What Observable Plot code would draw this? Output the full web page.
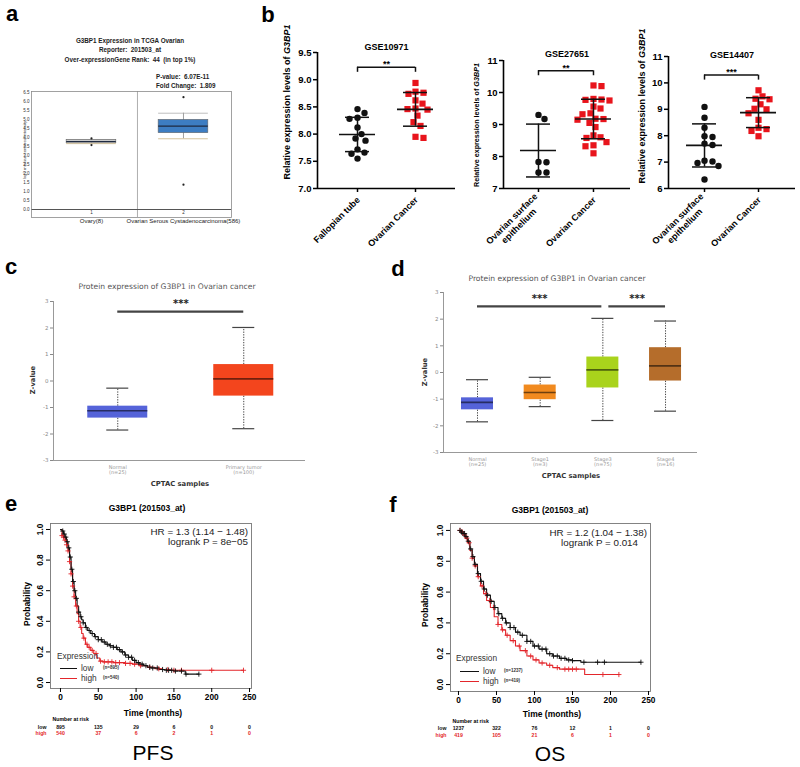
<!DOCTYPE html>
<html><head><meta charset="utf-8">
<script src="https://cdn.jsdelivr.net/npm/d3@7"></script>
<script src="https://cdn.jsdelivr.net/npm/@observablehq/plot@0.6"></script>
<style>
body{margin:0;background:#fff;}
#root{position:relative;width:800px;height:767px;overflow:hidden;background:#fff;font-family:"Liberation Sans",Arial,Helvetica,sans-serif;}
#root svg{position:absolute;overflow:visible;max-width:none;}
.t{position:absolute;white-space:nowrap;line-height:1;}
</style></head><body><div id="root"></div>
<script>
// ================= DATA =================
// (a) Oncomine TCGA Ovarian box plot
const aLabels = ["Ovary(8)", "Ovarian Serous Cystadenocarcinoma(586)"];
const aTickLabels = ["1", "2"];
const aMin = [3.66, 3.93];
const aQ1 = [3.68, 4.24];
const aMed = [3.78, 4.63];
const aQ3 = [3.87, 4.98];
const aMax = [3.89, 5.35];
const aOutGroup = [1, 1, 2, 2];
const aOutValue = [3.95, 3.58, 6.24, 1.38];
const aYTicks = [0, 0.5, 1, 1.5, 2, 2.5, 3, 3.5, 4, 4.5, 5, 5.5, 6, 6.5];

// (b) GEO scatter plots
const b1Cats = ["Fallopian tube", "Ovarian Cancer"];
const b1Normal = [8.46, 8.39, 8.30, 8.28, 8.12, 8.00, 7.92, 7.88, 7.72, 7.66, 7.64, 7.55];
const b1Cancer = [8.94, 8.78, 8.76, 8.74, 8.62, 8.56, 8.47, 8.46, 8.45, 8.34, 8.22, 8.15, 7.95, 7.93];
const b1Ticks = [7.0, 7.5, 8.0, 8.5, 9.0, 9.5];
const b2Cats = ["Ovarian surface\nepithelium", "Ovarian Cancer"];
const b2Normal = [9.30, 9.17, 7.83, 7.82, 7.50, 7.50];
const b2Cancer = [10.22, 10.20, 9.80, 9.78, 9.77, 9.75, 9.56, 9.50, 9.35, 9.32, 9.18, 9.17, 9.15, 9.05, 8.92, 8.66, 8.60, 8.58, 8.45, 8.35, 8.32, 8.10];
const b2Ticks = [7, 8, 9, 10, 11];
const b3Cats = ["Ovarian surface\nepithelium", "Ovarian Cancer"];
const b3Normal = [9.09, 8.68, 8.30, 7.95, 7.98, 7.70, 7.65, 7.05, 6.97, 7.02, 6.85, 6.34];
const b3Cancer = [9.72, 9.49, 9.40, 9.38, 9.19, 9.02, 9.00, 8.85, 8.60, 8.30, 8.25, 8.18, 7.98];
const b3Ticks = [6, 7, 8, 9, 10, 11];
const bTitles = ["GSE10971", "GSE27651", "GSE14407"];
const bStars = ["**", "**", "***"];

// (c) UALCAN normal vs tumor
const cLabels = ["Normal", "Primary tumor"];
const cN = [25, 100];
const cMin = [-1.85, -1.80];
const cQ1 = [-1.40, -0.57];
const cMed = [-1.12, 0.08];
const cQ3 = [-0.95, 0.62];
const cMax = [-0.27, 2.02];
const cSigPairs = [[1, 2]];
const cSigLevel = 2.62;

// (d) UALCAN by stage
const dLabels = ["Normal", "Stage1", "Stage3", "Stage4"];
const dN = [25, 3, 75, 16];
const dMin = [-1.85, -1.28, -1.80, -1.45];
const dQ1 = [-1.40, -1.02, -0.58, -0.32];
const dMed = [-1.12, -0.75, 0.10, 0.25];
const dQ3 = [-0.95, -0.47, 0.58, 0.93];
const dMax = [-0.27, -0.18, 2.03, 1.93];
const dSigPairs = [[1, 3], [3, 4]];
const dSigLevel = 2.48;
const zTicks = [-3, -2, -1, 0, 1, 2, 3];

// (e) PFS Kaplan-Meier
const pfsLowT = [0,2,4,6,8,10,12,14,16,18,20,22,24,26,28,30,33,36,40,45,50,55,60,65,70,75,80,85,90,95,100,105,110,115,120,130,140,150,165,183];
const pfsLowP = [1.0,0.99,0.97,0.95,0.92,0.88,0.82,0.74,0.66,0.60,0.55,0.50,0.46,0.43,0.41,0.39,0.36,0.34,0.32,0.30,0.28,0.265,0.25,0.24,0.23,0.215,0.20,0.18,0.165,0.145,0.13,0.12,0.11,0.10,0.095,0.085,0.08,0.075,0.055,0.055];
const pfsHighT = [0,2,4,6,8,10,12,14,16,18,20,22,24,26,28,30,33,36,40,44,48,52,56,70,85,95,105,115,125,135,145,242];
const pfsHighP = [1.0,0.96,0.95,0.93,0.90,0.86,0.79,0.71,0.63,0.56,0.50,0.45,0.40,0.36,0.32,0.29,0.25,0.23,0.21,0.19,0.16,0.14,0.135,0.13,0.125,0.12,0.11,0.10,0.09,0.085,0.08,0.08];
const pfsLowCens = [3,5,7,9,11,13,15,17,19,21,24,27,30,34,38,42,46,50,54,58,62,66,70,74,78,82,86,90,94,98,103,108,113,118,122,128,135,140,143,147,152,160,166,183];
const pfsHighCens = [2,4,6,8,10,12,14,16,18,21,24,27,31,35,38,42,47,53,58,63,68,73,78,86,92,98,106,118,130,142,150,160,200,242];
const pfsRiskLow = [895, 135, 29, 6, 0, 0];
const pfsRiskHigh = [540, 37, 6, 2, 1, 0];

// (f) OS Kaplan-Meier
const osLowT = [0,3,6,9,12,15,18,21,25,29,33,37,42,47,52,57,62,68,75,81,90,98,106,116,124,133,142,150,161,240];
const osLowP = [1.0,0.99,0.98,0.96,0.93,0.88,0.83,0.78,0.72,0.67,0.62,0.58,0.54,0.50,0.46,0.43,0.40,0.37,0.34,0.32,0.28,0.25,0.23,0.20,0.185,0.17,0.16,0.155,0.145,0.145];
const osHighT = [0,3,6,9,12,15,18,21,25,29,33,37,42,47,52,57,62,68,75,81,90,98,106,116,124,133,150,166,211];
const osHighP = [1.0,0.99,0.97,0.95,0.92,0.87,0.82,0.77,0.70,0.64,0.59,0.545,0.50,0.44,0.39,0.355,0.32,0.285,0.25,0.22,0.185,0.16,0.14,0.125,0.11,0.10,0.10,0.065,0.065];
const osLowCens = [2,4,6,8,10,13,16,19,22,26,30,34,38,43,48,53,58,63,68,73,78,84,90,95,100,105,110,115,120,125,130,135,140,145,150,165,183,192,240];
const osHighCens = [2,5,8,11,14,18,22,26,31,36,41,46,52,58,64,72,80,88,95,102,110,120,130,140,145,150,155,190,211];
const osRiskLow = [1237, 322, 76, 12, 1, 0];
const osRiskHigh = [419, 105, 21, 6, 1, 0];
const kmXTicks = [0, 50, 100, 150, 200, 250];
const kmYTicks = [0, 0.2, 0.4, 0.6, 0.8, 1.0];

// ================= HELPERS =================
const root = document.getElementById("root");
const FONT = '"Liberation Sans", Arial, Helvetica, sans-serif';
const UFONT = '"DejaVu Sans", Verdana, sans-serif';
const RED = "#e8141c";
const KRED = "#e3262b";

function T(html, x, y, o = {}) {
  const el = document.createElement("div");
  el.className = "t";
  el.innerHTML = html;
  el.style.left = x + "px";
  el.style.top = y + "px";
  const a = o.anchor || "middle";
  const tx = a === "start" ? "0" : a === "end" ? "-100%" : "-50%";
  if (o.origin) el.style.transformOrigin = o.origin;
  if (o.align) el.style.textAlign = o.align;
  if (o.lh) el.style.lineHeight = o.lh;
  el.style.transform = `translate(${tx},-50%)` + (o.rotate ? ` rotate(${o.rotate}deg)` : "");
  el.style.fontSize = (o.size || 10) + "px";
  el.style.fontWeight = o.bold ? "bold" : "normal";
  el.style.color = o.color || "#000";
  el.style.fontFamily = o.font || FONT;
  root.appendChild(el);
}
function L(x1, x2, y, color) {
  const el = document.createElement("div");
  el.style.cssText = `position:absolute;left:${x1}px;top:${y}px;width:${x2 - x1}px;height:0;border-top:1px solid ${color};`;
  root.appendChild(el);
}
function P(svg, left, top) {
  svg.style.left = left + "px";
  svg.style.top = top + "px";
  root.appendChild(svg);
}
function baseStyle(font, size, extra = {}) {
  return Object.assign({fontFamily: font, fontSize: size + "px", background: "transparent", overflow: "visible", color: "#000"}, extra);
}

// ================= PANEL A =================
const aBoxes = aLabels.map((l, i) => ({x: i + 1, min: aMin[i], q1: aQ1[i], med: aMed[i], q3: aQ3[i], max: aMax[i]}));
const aFill = ["#c8c8c8", "#3d7dc2"];
const aOut = aOutValue.map((v, i) => ({x: aOutGroup[i], v}));
const aw = 0.27;
P(Plot.plot({
  width: 240, height: 230, marginLeft: 31, marginRight: 9, marginTop: 91, marginBottom: 13,
  x: {domain: [0.348, 2.522], axis: null},
  y: {domain: [-0.444, 6.556]},
  style: baseStyle(FONT, 4.5, {color: "#333"}),
  marks: [
    Plot.axisY({ticks: aYTicks, tickFormat: d3.format(".1f"), tickSize: 0, tickPadding: 2, label: null}),
    Plot.ruleX([1.5], {stroke: "#9a9a9a", strokeWidth: 0.8}),
    Plot.ruleY([0], {stroke: "#555", strokeWidth: 1}),
    Plot.ruleX(aBoxes, {x: "x", y1: "min", y2: "max", stroke: "#777", strokeWidth: 0.7}),
    Plot.ruleY(aBoxes, {y: "max", x1: d => d.x - aw, x2: d => d.x + aw, stroke: "#a0a0a0", strokeWidth: 0.7}),
    Plot.ruleY(aBoxes, {y: "min", x1: d => d.x - aw, x2: d => d.x + aw, stroke: "#c0a870", strokeWidth: 0.7}),
    Plot.rect(aBoxes, {x1: d => d.x - aw, x2: d => d.x + aw, y1: "q1", y2: "q3", fill: (d, i) => aFill[i], stroke: "#666", strokeWidth: 0.6}),
    Plot.ruleY(aBoxes, {y: "med", x1: d => d.x - aw, x2: d => d.x + aw, stroke: "#1e2a40", strokeWidth: 1.1}),
    Plot.dot(aOut, {x: "x", y: "v", r: 1.1, fill: "#222"}),
    Plot.text(aTickLabels, {x: (d, i) => i + 1, frameAnchor: "bottom", dy: -4}),
    Plot.text(aLabels, {x: (d, i) => i + 1, frameAnchor: "bottom", dy: 5, fontSize: 6, fill: "#222"}),
    Plot.frame({stroke: "#8a8a8a", strokeWidth: 0.8})
  ]
}), 0, 0);
T("a", 12, 14, {size: 22, bold: true});
T("G3BP1 Expression in TCGA Ovarian", 130, 41, {size: 6.3, bold: true, color: "#222"});
T("Reporter:&nbsp; 201503_at", 130, 50, {size: 6.3, bold: true, color: "#222"});
T("Over-expressionGene Rank:&nbsp; 44&nbsp; (in top 1%)", 130, 60, {size: 6.3, bold: true, color: "#222"});
T("P-value:&nbsp; 6.07E-11", 156, 77, {size: 6.3, bold: true, anchor: "start", color: "#222"});
T("Fold Change:&nbsp; 1.809", 156, 86, {size: 6.3, bold: true, anchor: "start", color: "#222"});
T("log2 median-centered intensity", 25, 150, {size: 4.3, rotate: -90, color: "#444"});

// ================= PANEL B =================
function swarm(values, pxY, pxX, d) {
  const idx = d3.range(values.length).sort((a, b) => values[b] - values[a]);
  const placed = [], out = new Array(values.length);
  for (const i of idx) {
    const y = values[i] * pxY;
    for (let k = 0; k < 400; k++) {
      const dx = (k % 2 ? 1 : -1) * Math.ceil(k / 2);
      if (placed.every(p => Math.hypot(p[0] - dx, p[1] - y) >= d)) {
        placed.push([dx, y]); out[i] = dx / pxX; break;
      }
    }
  }
  return out;
}
function scatterPanel(o) {
  const fw = o.W - o.mL - o.mR, fh = o.H - o.mT - o.mB;
  const pxX = fw / (o.xDom[1] - o.xDom[0]), pxY = fh / (o.yDom[1] - o.yDom[0]);
  const groups = [o.normal, o.cancer];
  const pts = groups.map((vals, g) => {
    const off = swarm(vals, pxY, pxX, 7.2);
    return vals.map((v, i) => ({x: g + 1 + off[i], v}));
  });
  const stats = groups.map((vals, g) => ({x: g + 1, m: d3.mean(vals), s: d3.deviation(vals)}));
  const yb = d3.max(groups.flat()) + 0.115 * (o.yDom[1] - o.yDom[0]);
  const mh = 18 / pxX, ch = 12 / pxX, bt = 5 / pxY, tk = 4 / pxY;
  const y0 = () => o.yDom[0];
  // rotated category labels, anchored under each category tick
  o.cats.forEach((c, i) => {
    const px = o.left + o.mL + (i + 1 - o.xDom[0]) * pxX + 2;
    const py = o.H - o.mB + 11;
    T(c.replace("\n", "<br>"), px, py, {size: 9, bold: true, anchor: "end", rotate: -45, origin: "100% 50%", align: "center", lh: "1.1"});
  });
  return Plot.plot({
    width: o.W, height: o.H, marginLeft: o.mL, marginRight: o.mR, marginTop: o.mT, marginBottom: o.mB,
    x: {domain: o.xDom, axis: null}, y: {domain: o.yDom},
    style: baseStyle(FONT, 9.5, {fontWeight: "bold"}),
    marks: [
      Plot.axisY({ticks: o.yTicks, tickFormat: o.yFmt, tickSize: 4, tickPadding: 2, strokeWidth: 1.5, label: null}),
      Plot.ruleX([1, 2], {x: d => d, y1: y0, y2: () => o.yDom[0] - tk, stroke: "#000", strokeWidth: 1.5}),
      Plot.ruleX([o.xDom[0]], {stroke: "#000", strokeWidth: 1.6}),
      Plot.ruleY([o.yDom[0]], {stroke: "#000", strokeWidth: 1.6}),
      Plot.dot(pts[0], {x: "x", y: "v", r: 3.2, fill: "#111"}),
      Plot.dot(pts[1], {x: "x", y: "v", r: 3.5, symbol: "square", fill: RED}),
      Plot.ruleX(stats, {x: "x", y1: d => d.m - d.s, y2: d => d.m + d.s, stroke: "#111", strokeWidth: 1.5}),
      Plot.ruleY(stats, {y: "m", x1: d => d.x - mh, x2: d => d.x + mh, stroke: "#111", strokeWidth: 1.6}),
      Plot.ruleY(stats, {y: d => d.m + d.s, x1: d => d.x - ch, x2: d => d.x + ch, stroke: "#111", strokeWidth: 1.5}),
      Plot.ruleY(stats, {y: d => d.m - d.s, x1: d => d.x - ch, x2: d => d.x + ch, stroke: "#111", strokeWidth: 1.5}),
      Plot.ruleY([yb], {x1: () => 1, x2: () => 2, stroke: "#111", strokeWidth: 1.5}),
      Plot.ruleX([1, 2], {x: d => d, y1: () => yb, y2: () => yb - bt, stroke: "#111", strokeWidth: 1.5}),
      Plot.text([o.stars], {x: () => 1.5, y: () => yb, dy: -3, fontSize: 9}),
      Plot.text([o.title], {frameAnchor: "top", dy: o.titleDy, fontSize: 9})
    ]
  });
}
P(scatterPanel({left: 240, W: 220, H: 260, mL: 77, mR: 5, mT: 52, mB: 72, xDom: [0.31, 2.69], yDom: [7, 9.5],
  yTicks: b1Ticks, yFmt: d3.format(".1f"), cats: b1Cats, normal: b1Normal, cancer: b1Cancer,
  title: bTitles[0], titleDy: -9, stars: bStars[0]}), 240, 0);
P(scatterPanel({left: 430, W: 205, H: 260, mL: 73, mR: 5, mT: 60, mB: 72, xDom: [0.364, 2.673], yDom: [7, 11],
  yTicks: b2Ticks, yFmt: d3.format("d"), cats: b2Cats, normal: b2Normal, cancer: b2Cancer,
  title: bTitles[1], titleDy: -10, stars: bStars[1]}), 430, 0);
P(scatterPanel({left: 600, W: 200, H: 260, mL: 68, mR: 5, mT: 56, mB: 72, xDom: [0.333, 2.685], yDom: [6, 11],
  yTicks: b3Ticks, yFmt: d3.format("d"), cats: b3Cats, normal: b3Normal, cancer: b3Cancer,
  title: bTitles[2], titleDy: -5, stars: bStars[2]}), 600, 0);
T("b", 268, 15, {size: 22, bold: true});
const yLab = "Relative expression levels of <i>G3BP1</i>";
T(yLab, 287, 102, {size: 9, bold: true, rotate: -90});
T(yLab, 477, 125, {size: 7.2, bold: true, rotate: -90});
T(yLab, 642, 106, {size: 9, bold: true, rotate: -90});

// ================= PANELS C & D =================
function boxPanel(o) {
  const fw = o.W - o.mL - o.mR;
  const pxX = fw / (o.xDom[1] - o.xDom[0]);
  const bh = o.half / pxX, ch = 11 / pxX, gap = 6 / pxX;
  const boxes = o.labels.map((l, i) => ({x: i + 1, min: o.mins[i], q1: o.q1s[i], med: o.meds[i], q3: o.q3s[i], max: o.maxs[i], c: o.colors[i], dc: d3.color(o.colors[i]).darker(2.2).formatHex()}));
  const sig = o.sigPairs.map((p, i) => ({x1: p[0] + (i > 0 ? gap : 0), x2: p[1] - (i < o.sigPairs.length - 1 ? gap / 6 : 0)}));
  const n = o.labels.length;
  return Plot.plot({
    width: o.W, height: o.H, marginLeft: o.mL, marginRight: o.mR, marginTop: o.mT, marginBottom: o.mB,
    x: {domain: o.xDom}, y: {domain: [-3, 3]},
    style: baseStyle(UFONT, 5.5, {color: "#777"}),
    marks: [
      Plot.axisY({ticks: zTicks, tickFormat: d => String(d), tickSize: 3, tickPadding: 2, label: null, color: "#888"}),
      Plot.axisX({ticks: d3.range(1, n + 1), tickFormat: i => `${o.labels[i - 1]}\n(n=${o.ns[i - 1]})`, tickSize: 0, tickPadding: 5, label: null, color: "#999", fontSize: 5}),
      Plot.ruleX([o.xDom[0]], {stroke: "#999", strokeWidth: 1}),
      Plot.ruleY([-3], {stroke: "#999", strokeWidth: 1}),
      Plot.ruleX(boxes, {x: "x", y1: "q3", y2: "max", stroke: "#444", strokeWidth: 1, strokeDasharray: "1.3,1.3"}),
      Plot.ruleX(boxes, {x: "x", y1: "min", y2: "q1", stroke: "#444", strokeWidth: 1, strokeDasharray: "1.3,1.3"}),
      Plot.ruleY(boxes, {y: "max", x1: d => d.x - ch, x2: d => d.x + ch, stroke: "#444", strokeWidth: 1.2}),
      Plot.ruleY(boxes, {y: "min", x1: d => d.x - ch, x2: d => d.x + ch, stroke: "#444", strokeWidth: 1.2}),
      Plot.rect(boxes, {x1: d => d.x - bh, x2: d => d.x + bh, y1: "q1", y2: "q3", fill: "c"}),
      Plot.ruleY(boxes, {y: "med", x1: d => d.x - bh, x2: d => d.x + bh, stroke: "dc", strokeWidth: 1.6}),
      Plot.ruleY(sig, {y: () => o.sigLevel, x1: "x1", x2: "x2", stroke: "#444", strokeWidth: 2.2}),
      Plot.text(sig, {x: d => (d.x1 + d.x2) / 2, y: () => o.sigLevel, dy: -8, text: () => "***", fontSize: 10, fontWeight: "bold", fill: "#222"})
    ]
  });
}
P(boxPanel({W: 400, H: 240, mL: 53, mR: 95, mT: 41, mB: 40, xDom: [0.49, 2.49],
  labels: cLabels, ns: cN, mins: cMin, q1s: cQ1, meds: cMed, q3s: cQ3, maxs: cMax,
  colors: ["#5563d9", "#f3451d"], half: 30, sigPairs: cSigPairs, sigLevel: cSigLevel}), 0, 260);
P(boxPanel({W: 400, H: 240, mL: 43, mR: 103, mT: 32, mB: 48, xDom: [0.4575, 4.51],
  labels: dLabels, ns: dN, mins: dMin, q1s: dQ1, meds: dMed, q3s: dQ3, maxs: dMax,
  colors: ["#5563d9", "#f18a1f", "#a9d31c", "#b56d2b"], half: 16, sigPairs: dSigPairs, sigLevel: dSigLevel}), 400, 260);
T("c", 11, 267, {size: 22, bold: true});
T("d", 398, 269, {size: 22, bold: true});
const ualTitle = "Protein expression of G3BP1 in Ovarian cancer";
T(ualTitle, 167, 287, {size: 7.6, font: UFONT, color: "#555"});
T(ualTitle, 557, 279, {size: 7.6, font: UFONT, color: "#555"});
T("CPTAC samples", 180, 484, {size: 6.8, bold: true, font: UFONT, color: "#333"});
T("CPTAC samples", 571, 476, {size: 6.8, bold: true, font: UFONT, color: "#333"});
T("Z-value", 33, 380, {size: 6.8, bold: true, font: UFONT, color: "#333", rotate: -90});
T("Z-value", 425, 372, {size: 6.8, bold: true, font: UFONT, color: "#333", rotate: -90});

// ================= PANELS E & F =================
function stepAt(ts, ps, t) {
  let j = 0;
  for (let i = 0; i < ts.length; i++) if (ts[i] <= t) j = i;
  return ps[j];
}
function kmPanel(o) {
  const low = o.lowT.map((t, i) => ({t, p: o.lowP[i]}));
  const high = o.highT.map((t, i) => ({t, p: o.highP[i]}));
  const lowC = o.lowC.map(t => ({t, p: stepAt(o.lowT, o.lowP, t)}));
  const highC = o.highC.map(t => ({t, p: stepAt(o.highT, o.highP, t)}));
  const x0 = () => o.xDom[0];
  return Plot.plot({
    width: o.W, height: o.H, marginLeft: o.mL, marginRight: o.mR, marginTop: o.mT, marginBottom: o.mB,
    x: {domain: o.xDom}, y: {domain: o.yDom},
    style: baseStyle(FONT, 8.3, {fontWeight: "bold"}),
    marks: [
      Plot.frame({stroke: "#777", strokeWidth: 0.9}),
      Plot.axisX({ticks: kmXTicks, tickSize: 4, tickPadding: 2, label: null}),
      Plot.axisY({ticks: kmYTicks, tickSize: 4, tickFormat: () => "", label: null}),
      Plot.text(kmYTicks, {x: x0, y: d => d, text: d => d.toFixed(1), rotate: -90, dx: -10}),
      Plot.line(high, {x: "t", y: "p", curve: "step-after", stroke: KRED, strokeWidth: 1.1}),
      Plot.line(low, {x: "t", y: "p", curve: "step-after", stroke: "#111", strokeWidth: 1.1}),
      Plot.dot(highC, {x: "t", y: "p", symbol: "plus", r: 1.8, stroke: KRED, strokeWidth: 0.9}),
      Plot.dot(lowC, {x: "t", y: "p", symbol: "plus", r: 1.8, stroke: "#111", strokeWidth: 0.9}),
      Plot.text(["Number at risk"], {x: x0, frameAnchor: "bottom", dy: o.riskDy[0], dx: 2, textAnchor: "start", fontSize: 5.2}),
      Plot.text(["low"], {x: x0, frameAnchor: "bottom", dy: o.riskDy[1], dx: -4, textAnchor: "end", fontSize: 5.2, fill: "#111"}),
      Plot.text(["high"], {x: x0, frameAnchor: "bottom", dy: o.riskDy[2], dx: -4, textAnchor: "end", fontSize: 5.2, fill: KRED}),
      Plot.text(kmXTicks, {x: d => d, text: (d, i) => String(o.riskLow[i]), frameAnchor: "bottom", dy: o.riskDy[1], fontSize: 5.2, fill: "#111"}),
      Plot.text(kmXTicks, {x: d => d, text: (d, i) => String(o.riskHigh[i]), frameAnchor: "bottom", dy: o.riskDy[2], fontSize: 5.2, fill: KRED})
    ]
  });
}
P(kmPanel({W: 260, H: 277, mL: 50, mR: 9, mT: 33, mB: 79, xDom: [-13.2, 252.6], yDom: [-0.039, 1.039],
  lowT: pfsLowT, lowP: pfsLowP, highT: pfsHighT, highP: pfsHighP, lowC: pfsLowCens, highC: pfsHighCens,
  riskLow: pfsRiskLow, riskHigh: pfsRiskHigh, riskDy: [32, 40, 46]}), 0, 490);
P(kmPanel({W: 260, H: 277, mL: 50, mR: 10, mT: 33, mB: 76, xDom: [-10.5, 252.6], yDom: [-0.045, 1.045],
  lowT: osLowT, lowP: osLowP, highT: osHighT, highP: osHighP, lowC: osLowCens, highC: osHighCens,
  riskLow: osRiskLow, riskHigh: osRiskHigh, riskDy: [31, 38, 45]}), 400, 490);
T("e", 11, 504, {size: 22, bold: true});
T("f", 393, 505, {size: 22, bold: true});
T("G3BP1 (201503_at)", 147, 508, {size: 8.5, bold: true});
T("G3BP1 (201503_at)", 550, 510, {size: 8.5, bold: true});
T("HR = 1.3 (1.14 \u2212 1.48)", 248, 532, {size: 9.8, anchor: "end", color: "#222"});
T("logrank P = 8e\u221205", 248, 542, {size: 9.8, anchor: "end", color: "#222"});
T("HR = 1.2 (1.04 \u2212 1.38)", 647, 533, {size: 9.8, anchor: "end", color: "#222"});
T("logrank P = 0.014", 638, 543, {size: 9.8, anchor: "end", color: "#222"});
T("Probability", 27, 604, {size: 8.5, bold: true, rotate: -90});
T("Probability", 425, 605, {size: 8.5, bold: true, rotate: -90});
T("Time (months)", 153, 713, {size: 8.5, bold: true});
T("Time (months)", 552, 714, {size: 8.5, bold: true});
T("PFS", 153, 752, {size: 21});
T("OS", 550, 753, {size: 21});
// legends
T("Expression", 57, 656, {size: 8.3, anchor: "start", color: "#333"});
L(60, 77, 668, "#111"); L(60, 77, 678, KRED);
T("low", 81, 668, {size: 8.3, anchor: "start", color: "#333"});
T("high", 81, 678, {size: 8.3, anchor: "start", color: "#333"});
T("(n=895)", 103, 668, {size: 4.5, anchor: "start", bold: true, color: "#333"});
T("(n=540)", 103, 678, {size: 4.5, anchor: "start", bold: true, color: "#333"});
T("Expression", 456, 658, {size: 8.3, anchor: "start", color: "#333"});
L(460, 479, 671, "#111"); L(460, 479, 681, KRED);
T("low", 483, 671, {size: 8.3, anchor: "start", color: "#333"});
T("high", 483, 681, {size: 8.3, anchor: "start", color: "#333"});
T("(n=1237)", 504, 671, {size: 4.5, anchor: "start", bold: true, color: "#333"});
T("(n=419)", 504, 681, {size: 4.5, anchor: "start", bold: true, color: "#333"});
</script></body></html>
